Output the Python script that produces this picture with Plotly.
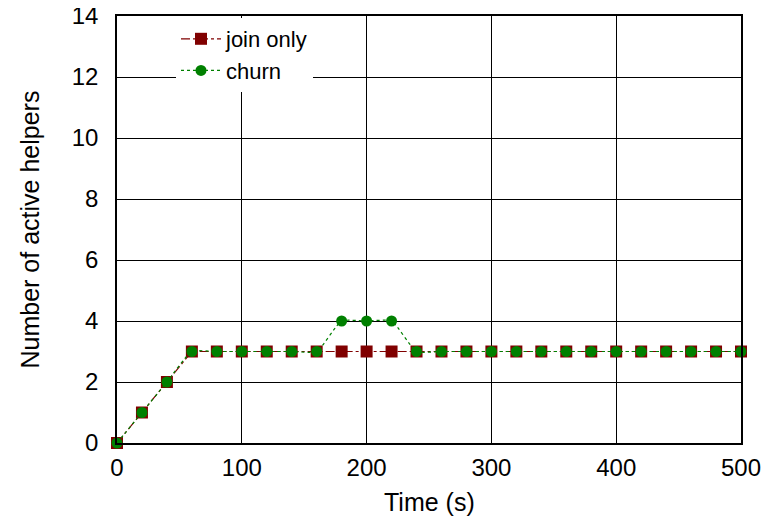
import plotly.graph_objects as go

time_s = [0, 20, 40, 60, 80, 100, 120, 140, 160, 180, 200, 220, 240, 260, 280,
          300, 320, 340, 360, 380, 400, 420, 440, 460, 480, 500]
join_only = [0, 1, 2, 3, 3, 3, 3, 3, 3, 3, 3, 3, 3, 3, 3,
             3, 3, 3, 3, 3, 3, 3, 3, 3, 3, 3]
churn = [0, 1, 2, 3, 3, 3, 3, 3, 3, 4, 4, 4, 3, 3, 3,
         3, 3, 3, 3, 3, 3, 3, 3, 3, 3, 3]

x_ticks = [0, 100, 200, 300, 400, 500]
y_ticks = [0, 2, 4, 6, 8, 10, 12, 14]

FONT = "Liberation Sans, Arial, Helvetica, sans-serif"
# page body has an 8px margin; figure is sized to fit the window
OFF = 8
W, H = 771 - 2 * OFF, 524 - 2 * OFF
L, T = 117 - OFF, 16 - OFF
PW, PH = 624, 427
R, B = W - L - PW, H - T - PH

fig = go.Figure()
fig.add_trace(go.Scatter(
    x=time_s, y=join_only, name="join only", mode="lines+markers",
    line=dict(color="#800000", width=1.2, dash="dashdot"),
    marker=dict(symbol="square", size=12, color="#800000"),
    cliponaxis=False,
))
fig.add_trace(go.Scatter(
    x=time_s, y=churn, name="churn", mode="lines+markers",
    line=dict(color="#008000", width=1.2, dash="dot", shape="spline", smoothing=0.5),
    marker=dict(symbol="circle", size=11, color="#008000"),
    cliponaxis=False,
))

axis_common = dict(
    showgrid=True, gridcolor="black", gridwidth=1.3,
    showline=True, linecolor="black", linewidth=1.5, mirror=True,
    zeroline=False, ticks="", automargin=False, ticklabeloverflow="allow",
    tickfont=dict(family=FONT, size=24, color="black"),
)

fig.update_layout(
    width=W, height=H,
    margin=dict(l=L, r=R, t=T, b=B, pad=0),
    paper_bgcolor="white", plot_bgcolor="white",
    font=dict(family=FONT, color="black"),
    xaxis=dict(range=[0, 500], tickvals=x_ticks, ticklabelstandoff=2, **axis_common),
    yaxis=dict(range=[0, 14], tickvals=y_ticks, ticklabelstandoff=12, **axis_common),
    legend=dict(x=(176 - 117) / PW, y=1 - 2 / PH, xanchor="left", yanchor="top",
                bgcolor="white", borderwidth=0,
                font=dict(family=FONT, size=22, color="black"),
                tracegroupgap=0, itemwidth=40),
    showlegend=True,
    annotations=[
        dict(text="Time (s)", xref="paper", yref="paper", x=0.5, y=0,
             yshift=-59, showarrow=False, xanchor="center", yanchor="middle",
             font=dict(family=FONT, size=25, color="black")),
        dict(text="Number of active helpers", xref="paper", yref="paper", x=0, y=0.5,
             xshift=-88, showarrow=False, xanchor="center", yanchor="middle",
             textangle=-90, font=dict(family=FONT, size=25, color="black")),
    ],
)

fig.write_html("out.html")
